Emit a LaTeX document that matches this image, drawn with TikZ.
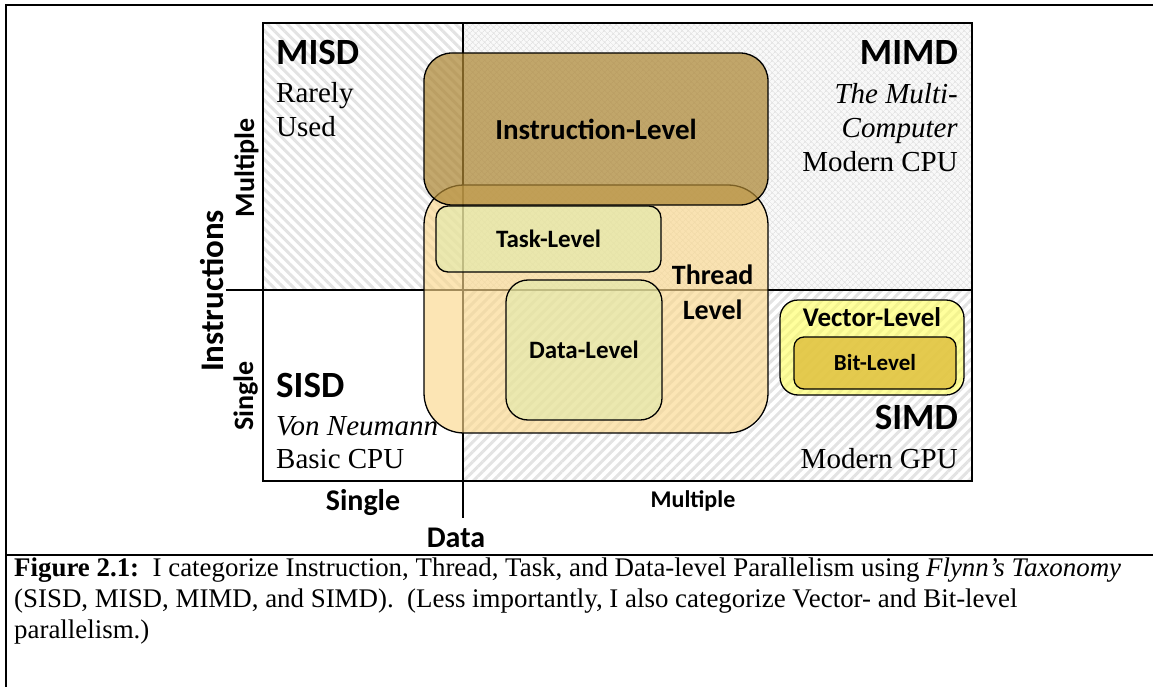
\documentclass[tikz,border=0pt]{standalone}
\usepackage{fontspec}
\setmainfont{Liberation Serif}
\newfontfamily\calibri{Carlito}
\usepackage{tikz}
\usetikzlibrary{patterns.meta}
\usetikzlibrary{positioning}
\definecolor{instrcol}{RGB}{172,134,52}
\definecolor{threadcol}{RGB}{250,215,140}
\definecolor{taskcol}{RGB}{220,236,170}
\definecolor{vectorcol}{RGB}{255,255,90}
\definecolor{bitcol}{RGB}{222,190,60}

\begin{document}
\begin{tikzpicture}[x=1pt,y=-1pt,
    level node/.style={rectangle,draw,line width=1.3pt,text opacity=1,inner sep=0pt,font=\calibri\bfseries\fontsize{25}{30}\selectfont},
    quad title/.style={inner sep=0pt,font=\calibri\bfseries\fontsize{37}{40}\selectfont},
    quad text/.style={inner sep=0pt,font=\fontsize{29}{34.5}\selectfont},
    axis label/.style={inner sep=0pt,font=\calibri\bfseries\fontsize{30}{32}\selectfont}]
  \useasboundingbox (0,0) rectangle (1153,687);
  % outer frame and caption rule
  \draw[line width=2.5pt] (6,687) -- (6,5) -- (1153,5);
  \draw[line width=2.5pt] (6,555) -- (1153,555);
  \begin{scope}
    % quadrant fills
    \fill[pattern={Lines[angle=-45,distance=7pt,line width=3pt]},pattern color=gray!22] (263,23) rectangle (463,290);
    \fill[gray!5] (463,23) rectangle (972,290);
    \fill[pattern={Hatch[angle=45,distance=4pt,line width=0.7pt]},pattern color=gray!22] (463,23) rectangle (972,290);
    \fill[pattern={Lines[angle=45,distance=7pt,line width=3pt]},pattern color=gray!22] (463,290) rectangle (972,481);
    \draw[line width=1.5pt] (263,23) rectangle (972,481);
    \coordinate (hl) at (226,290);
    \coordinate (hr) at (972,290);
    \coordinate (vt) at (463,23);
    \coordinate (vb) at (463,518);
    \path[-,line width=1.5pt] (hl) edge (hr);
    \path[-,line width=1.5pt] (vt) edge (vb);
    % quadrant names (base = last line)
    \node[quad title,anchor=base west] (misd) at (276,65) {MISD};
    \node[quad text,anchor=base west,align=left] (misdtxt) at (276,137) {Rarely\\Used};
    \node[quad title,anchor=base east] (mimd) at (958,65) {MIMD};
    \node[quad text,anchor=base east,align=right] (mimdtxt) at (958,172) {\textit{The Multi-}\\\textit{Computer}\\Modern CPU};
    \node[quad title,anchor=base west] (sisd) at (276,397) {SISD};
    \node[quad text,anchor=base west,align=left,font=\fontsize{29}{33}\selectfont] (sisdtxt) at (276,468) {\textit{Von Neumann}\\Basic CPU};
    \node[quad title,anchor=base east] (simd) at (958,429) {SIMD};
    \node[quad text,anchor=base east] (simdtxt) at (958,468) {Modern GPU};
    % axes
    \node[axis label,anchor=base] (dsingle) at (363,510) {Single};
    \node[axis label,anchor=base,font=\calibri\bfseries\fontsize{24}{26}\selectfont] (dmulti) at (693,507) {Multiple};
    \node[axis label,anchor=base] (data) at (456,547) {Data};
    \node[axis label,anchor=base,rotate=90,font=\calibri\bfseries\fontsize{33}{35}\selectfont] (instr) at (223,291) {Instructions};
    \node[axis label,anchor=base,rotate=90,font=\calibri\bfseries\fontsize{28}{30}\selectfont] (imulti) at (254,168) {Multiple};
    \node[axis label,anchor=base,rotate=90,font=\calibri\bfseries\fontsize{28}{30}\selectfont] (isingle) at (253,396) {Single};
    % parallelism levels
    \node[level node,fill=threadcol,fill opacity=0.65,rounded corners=40pt,minimum width=344pt,minimum height=248pt] (thread) at (596,309) {};
    \node[level node,draw=none,font=\calibri\bfseries\fontsize{28}{35}\selectfont,align=center] (threadtxt) at ([xshift=-56pt,yshift=17pt]thread.east) {Thread\\Level};
    \node[level node,fill=taskcol,fill opacity=0.5,rounded corners=12pt,minimum width=225pt,minimum height=66pt] (task) at (548.5,239) {Task-Level};
    \node[level node,fill=taskcol,fill opacity=0.5,rounded corners=22pt,minimum width=156pt,minimum height=140pt] (datalvl) at (584,350) {Data-Level};
    \node[level node,fill=instrcol,fill opacity=0.72,rounded corners=28pt,minimum width=344pt,minimum height=152pt,font=\calibri\bfseries\fontsize{29}{32}\selectfont] (instrlvl) at (596,129) {Instruction-Level};
    \node[level node,fill=vectorcol,fill opacity=0.6,rounded corners=18pt,minimum width=184pt,minimum height=95pt] (vector) at (872,347.5) {};
    \node[level node,draw=none,anchor=base,font=\calibri\bfseries\fontsize{27}{30}\selectfont] (vectortxt) at ([yshift=-27pt]vector.north) {Vector-Level};
    \node[level node,fill=bitcol,fill opacity=0.8,rounded corners=10pt,minimum width=162pt,minimum height=52pt,font=\calibri\bfseries\fontsize{23}{26}\selectfont] (bit) at (875,363) {Bit-Level};
  \end{scope}
  % caption (base = last line)
  \node[anchor=base west,inner sep=0pt,align=left,font=\fontsize{26.9}{30.7}\selectfont] (caption) at (14,638) {\textbf{Figure 2.1:}\ \ I categorize Instruction, Thread, Task, and Data-level Parallelism using \textit{Flynn's Taxonomy}\\(SISD, MISD, MIMD, and SIMD).\ \ (Less importantly, I also categorize Vector- and Bit-level\\parallelism.)};
\end{tikzpicture}
\end{document}
